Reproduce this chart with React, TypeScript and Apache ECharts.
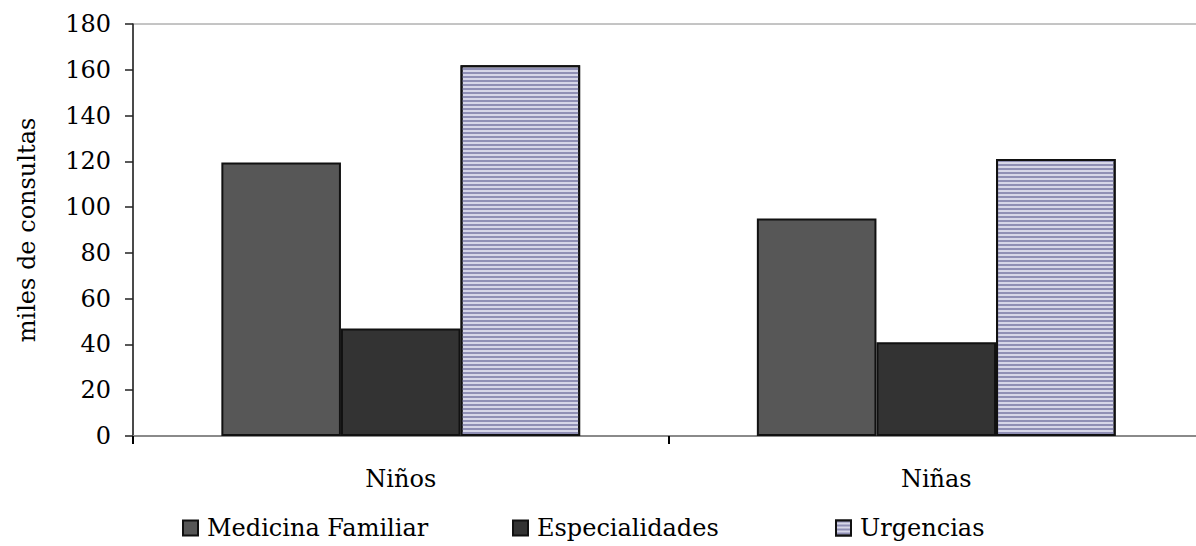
import React, { useEffect, useRef } from "react";
import * as echarts from "echarts";

const categories = ["Niños", "Niñas"];
const medicinaFamiliar = [119.5, 95];
const especialidades = [47, 41];
const urgencias = [162, 121];
const yTicks = { min: 0, max: 180, interval: 20 };

const FONT = "DejaVu Serif";
const FS = 24;

export default function App() {
  const ref = useRef<HTMLDivElement>(null);
  useEffect(() => {
    if (!ref.current) return;
    const chart = echarts.init(ref.current, null, { renderer: "svg" });
    const barBorder = { borderColor: "#111", borderWidth: 2 };
    const urgDecal = {
      symbol: "rect",
      symbolSize: 1,
      dashArrayX: [1, 0],
      dashArrayY: [1.5, 1.5],
      rotation: 0,
      color: "#8f8fb5",
    };
    const legendBase = {
      top: 511,
      itemWidth: 15,
      itemHeight: 15,
      itemGap: 0,
      textStyle: { fontFamily: FONT, fontSize: FS, color: "#000", padding: [0, 0, 0, 4] },
      icon: "rect",
    };
    chart.setOption({
      animation: false,
      backgroundColor: "#fff",
      grid: {
        left: 133,
        top: 24,
        width: 1071,
        height: 412,
        outerBoundsMode: "none",
        containLabel: false,
        show: true,
        borderColor: "#8a8a8a",
        borderWidth: 1,
      },
      legend: [
        { ...legendBase, left: 177, data: ["Medicina Familiar"] },
        { ...legendBase, left: 507, data: ["Especialidades"] },
        { ...legendBase, left: 830, data: ["Urgencias"] },
      ],
      xAxis: {
        type: "category",
        data: categories,
        axisLine: { lineStyle: { color: "#8a8a8a", width: 2 } },
        axisTick: { show: true, length: 8, lineStyle: { color: "#000", width: 2 } },
        axisLabel: { fontFamily: FONT, fontSize: FS, color: "#000", margin: 31 },
      },
      yAxis: {
        type: "value",
        min: yTicks.min,
        max: yTicks.max,
        interval: yTicks.interval,
        name: "miles de consultas",
        nameLocation: "middle",
        nameGap: 94,
        nameTextStyle: { fontFamily: FONT, fontSize: FS, color: "#000" },
        axisLine: { show: true, lineStyle: { color: "#222", width: 1.5 } },
        axisTick: { show: true, length: 8, lineStyle: { color: "#222", width: 1.5 } },
        axisLabel: { fontFamily: FONT, fontSize: FS, color: "#000", margin: 22 },
        splitLine: { show: false },
      },
      series: [
        {
          name: "Medicina Familiar",
          type: "bar",
          data: medicinaFamiliar,
          barGap: "0%",
          barCategoryGap: "33%",
          itemStyle: { color: "#575757", ...barBorder },
        },
        {
          name: "Especialidades",
          type: "bar",
          data: especialidades,
          barGap: "0%",
          barCategoryGap: "33%",
          itemStyle: { color: "#333333", ...barBorder },
        },
        {
          name: "Urgencias",
          type: "bar",
          data: urgencias,
          barGap: "0%",
          barCategoryGap: "33%",
          itemStyle: { color: "#d6d6e8", decal: urgDecal, ...barBorder },
        },
      ],
    });
    return () => chart.dispose();
  }, []);
  return <div ref={ref} style={{ width: 1196, height: 546, position: "absolute", left: 0, top: 0 }} />;
}
